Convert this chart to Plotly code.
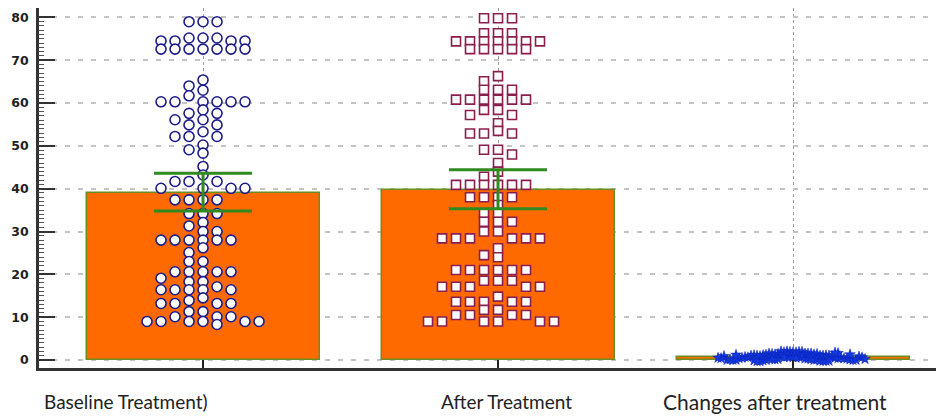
import plotly.graph_objects as go

# ---------------- data ----------------
categories = ["Baseline Treatment)", "After Treatment", "Changes after treatment"]
means = [39.0, 39.6, 0.6]
ci_low = [34.8, 35.3, None]
ci_high = [43.6, 44.4, None]

baseline = [
    79.0, 79.0, 79.0,
    75.2, 75.2, 75.2, 74.5, 74.5, 74.5, 74.5,
    72.6, 72.6, 72.6, 72.6, 72.6, 72.6, 72.6,
    65.4, 64.0, 63.0, 61.7,
    60.3, 60.3, 60.3, 60.3, 60.3, 60.3,
    58.4, 57.6, 57.6, 56.1, 56.1, 54.9, 54.9, 53.3, 52.2, 52.2, 52.2,
    50.2, 49.1, 48.3, 45.2, 43.2,
    41.7, 41.7, 41.7, 40.1, 40.1, 40.1, 40.1,
    37.4, 37.4, 37.4, 37.4, 34.2, 34.2, 34.2,
    32.1, 31.3, 30.0, 30.0,
    28.0, 28.0, 28.0, 28.0, 28.0, 28.0,
    26.2, 25.1, 23.0, 23.0,
    20.6, 20.6, 20.6, 20.6, 20.6, 19.1, 18.3, 18.3, 17.1,
    16.4, 16.4, 16.4, 16.4, 16.4, 14.5, 13.9,
    13.2, 13.2, 13.2, 13.2, 11.3, 11.3, 10.1, 10.1, 10.1,
    9.0, 9.0, 9.0, 9.0, 9.0, 9.0, 8.3,
]

after = [
    79.8, 79.8, 79.8,
    76.3, 76.3, 76.3,
    74.4, 74.4, 74.4, 74.4, 74.4, 74.4, 74.4,
    72.6, 72.6, 72.6, 72.6, 72.6,
    66.3, 65.1, 63.1, 63.1, 63.1,
    60.8, 60.8, 60.8, 60.8, 60.8, 60.8,
    58.4, 58.4, 57.2, 57.2, 55.3, 53.5, 52.9, 52.9, 52.9,
    49.1, 49.1, 48.0, 46.0, 44.0, 42.8,
    40.9, 40.9, 40.9, 40.9, 40.9, 40.9,
    38.0, 38.0, 38.0, 38.0, 36.2, 34.3, 34.3,
    32.3, 32.3, 32.3, 30.0, 30.0,
    28.4, 28.4, 28.4, 28.4, 28.4, 28.4,
    26.1, 24.5, 24.0,
    21.0, 21.0, 21.0, 21.0, 21.0, 21.0,
    18.5, 18.5, 18.5, 17.1, 17.1, 17.1, 17.1, 17.1,
    14.8, 13.6, 13.6, 13.6, 13.6, 13.6,
    11.7, 11.7, 10.5, 10.5, 10.5, 10.5,
    9.0, 9.0, 9.0, 9.0, 9.0, 9.0,
]

changes = [
    1.8, 1.9, 1.8, 2.0, 1.9, 1.8, 1.9, 2.0,
    1.5, 1.4, 1.5, 1.3, 1.5, 1.4, 1.3, 1.5, 1.4, 1.2,
    1.0, 1.1, 1.0, 0.9, 1.1, 1.0, 0.8, 1.0, 1.1, 0.9, 1.0, 0.8,
    0.7, 0.6, 0.7, 0.5, 0.6, 0.7, 0.5, 0.6, 0.4, 0.7, 0.6, 0.5,
    0.3, 0.4, 0.2, 0.3, 0.4, 0.2, 0.3, 0.1, 0.3, 0.2,
    0.0, 0.1, 0.0, 0.0, 0.1, 0.0, 0.0, 0.1, 0.0, 0.0,
    -0.2, -0.1, -0.2, -0.3, -0.2, -0.1, -0.3, -0.2,
    0.8, 0.9, 1.2, 1.3, 0.6, 0.4, 0.2, 0.5, 1.6, 1.7,
]

y_ticks = [0, 10, 20, 30, 40, 50, 60, 70, 80]

# ---------------- layout constants ----------------
# page has an 8px body margin, so the figure is offset by 8px
W, H = 944, 419
M_L, M_R, M_T, M_B = 31, 0, 0, 59
PX_X = 295.0
X_RANGE = [-0.556, -0.556 + (W - M_L - M_R) / PX_X]
Y_RANGE = [-1.87, 82.2]
PX_Y = (H - M_T - M_B) / (Y_RANGE[1] - Y_RANGE[0])


def swarm(values, center, w_px, h_px):
    """Simple beeswarm: place each point as close to the centre as possible."""
    placed = []
    xs = []
    for v in values:
        yp = v * PX_Y
        near = [p for p in placed if abs(p[1] - yp) < h_px]
        cands = [0.0]
        for p in near:
            cands += [p[0] + w_px, p[0] - w_px]
        cands.sort(key=lambda c: (abs(c), c))
        for c in cands:
            if all(abs(c - p[0]) >= w_px - 1e-9 for p in near):
                break
        placed.append((c, yp))
        xs.append(center + c / PX_X)
    return xs


fig = go.Figure()

# bars
fig.add_trace(go.Bar(
    x=[0, 1, 2], y=means, width=0.79,
    marker=dict(color="#FF6A00", line=dict(color="#6b8e23", width=1.5)),
    showlegend=False, hoverinfo="skip",
))

# points
fig.add_trace(go.Scatter(
    x=swarm(baseline, 0, 14, 7.5), y=baseline, mode="markers",
    marker=dict(symbol="circle", size=10, color="white",
                line=dict(color="#1c1c8a", width=1.6)),
    showlegend=False,
))
fig.add_trace(go.Scatter(
    x=swarm(after, 1, 14, 7.5), y=after, mode="markers",
    marker=dict(symbol="square", size=9, color="white",
                line=dict(color="#8a1f4e", width=1.6)),
    showlegend=False,
))
fig.add_trace(go.Scatter(
    x=swarm(changes, 2, 3, 5), y=changes, mode="markers",
    marker=dict(symbol="star", size=8, color="#1238e0",
                line=dict(color="#0a20b0", width=0.5)),
    showlegend=False,
))

# error bars (on top of the points)
err_plus = [h - m if h is not None else None for h, m in zip(ci_high, means)]
err_minus = [m - l if l is not None else None for l, m in zip(ci_low, means)]
fig.add_trace(go.Scatter(
    x=[0, 1], y=means[:2], mode="markers",
    marker=dict(size=1, opacity=0),
    error_y=dict(type="data", symmetric=False, array=err_plus[:2],
                 arrayminus=err_minus[:2], color="#2f8a1f", thickness=3, width=49),
    showlegend=False, hoverinfo="skip",
))

# category labels
label_x = [-0.261, 1.03, 1.94]
label_size = [19, 19, 21]
for cx, txt, fs in zip(label_x, categories, label_size):
    fig.add_annotation(x=cx, y=0, xref="x", yref="paper", yshift=-33,
                       text=txt, showarrow=False, yanchor="middle",
                       font=dict(family="Lato, Open Sans, sans-serif", size=fs, color="#222"))

fig.update_layout(
    width=W, height=H,
    margin=dict(l=M_L, r=M_R, t=M_T, b=M_B),
    paper_bgcolor="white", plot_bgcolor="white",
    bargap=0,
    xaxis=dict(range=X_RANGE, tickvals=[0, 1, 2], showticklabels=False,
               showgrid=True, gridcolor="#9a9a9a", griddash="dot", gridwidth=1,
               zeroline=False, showline=True, linecolor="#333", linewidth=3,
               ticks="inside", ticklen=8, tickwidth=2, tickcolor="#222"),
    yaxis=dict(range=Y_RANGE, tickvals=y_ticks, ticktext=[str(t) for t in y_ticks],
               showgrid=True, gridcolor="#c4c4c4", griddash="5px,8px", gridwidth=1.5,
               zeroline=False, showline=True, linecolor="#333", linewidth=2.5,
               ticks="inside", ticklen=16, tickwidth=2, tickcolor="#333",
               ticklabelstandoff=5,
               tickfont=dict(family="DejaVu Sans", size=12.5, color="#222", weight="bold"),
               minor=dict(tickvals=[v for v in range(1, 81) if v % 10 != 0],
                          ticks="inside", ticklen=5, tickwidth=1, tickcolor="#555",
                          showgrid=False)),
)

fig.write_html("out.html")
